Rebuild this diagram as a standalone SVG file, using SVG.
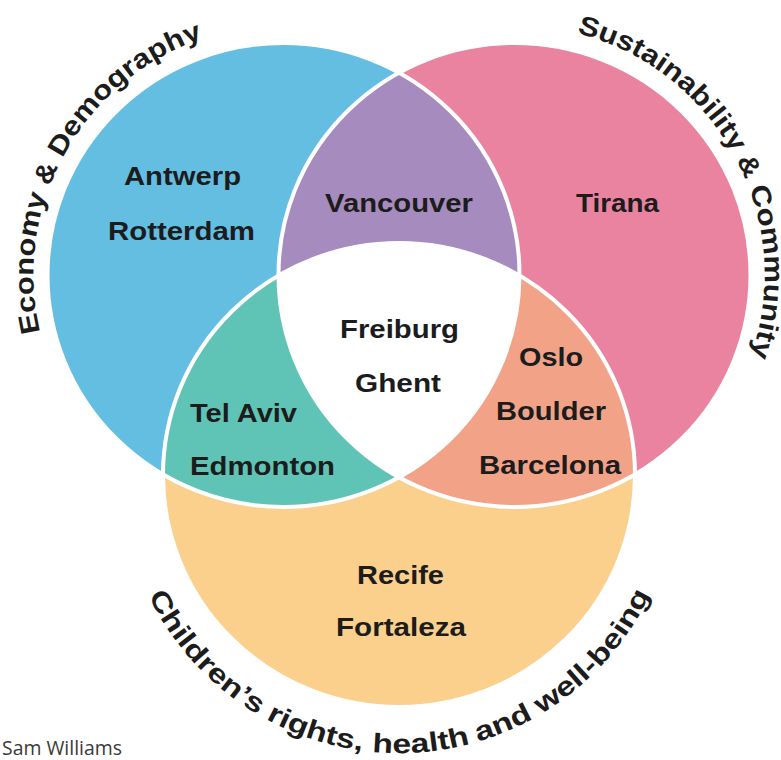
<svg xmlns="http://www.w3.org/2000/svg" width="781" height="760" viewBox="0 0 781 760">
<style>
.lbl{font-family:"Liberation Sans",Arial,sans-serif;font-weight:bold;font-size:26px;fill:#1c1c1c}
.cat{font-family:"Liberation Sans",Arial,sans-serif;font-weight:bold;font-size:27px;fill:#1c1c1c}
.edge{fill:none;stroke:#ffffff;stroke-width:4}
.credit{font-family:"Open Sans","Liberation Sans",sans-serif;font-size:20px;fill:#3a3a3a}
</style>
<defs>
<clipPath id="cB"><ellipse cx="283.5" cy="275" rx="236" ry="232"/></clipPath>
<clipPath id="cP"><ellipse cx="514.5" cy="275" rx="236" ry="232"/></clipPath>
<path id="arcB" d="M40.1,332.1 A250,250 0 0 1 202.9,38.3"/>
<path id="arcP" d="M576.7,32.9 A250,250 0 0 1 750.9,356.4"/>
<path id="arcY" d="M148.5,595.6 A278,278 0 0 0 651,592.5"/>
</defs>
<rect width="781" height="760" fill="#ffffff"/>

<g id="economy">
<ellipse cx="283.5" cy="275" rx="236" ry="232" fill="#64BEE2"/>
</g>
<g id="sustainability">
<ellipse cx="514.5" cy="275" rx="236" ry="232" fill="#E983A0"/>
</g>
<g id="children">
<ellipse cx="399" cy="475" rx="236" ry="232" fill="#FAD08C"/>
</g>
<g id="economy-sustainability">
<ellipse cx="514.5" cy="275" rx="236" ry="232" fill="#A58BBE" clip-path="url(#cB)"/>
</g>
<g id="economy-children">
<ellipse cx="399" cy="475" rx="236" ry="232" fill="#5FC4B6" clip-path="url(#cB)"/>
</g>
<g id="sustainability-children">
<ellipse cx="399" cy="475" rx="236" ry="232" fill="#F2A387" clip-path="url(#cP)"/>
</g>
<g id="all-three">
<g clip-path="url(#cB)"><ellipse cx="399" cy="475" rx="236" ry="232" fill="#ffffff" clip-path="url(#cP)"/></g>
</g>
<g id="outlines">
<ellipse class="edge" cx="283.5" cy="275" rx="236" ry="232"/>
<ellipse class="edge" cx="514.5" cy="275" rx="236" ry="232"/>
<ellipse class="edge" cx="399" cy="475" rx="236" ry="232"/>
</g>

<g id="category-labels">
<text class="cat"><textPath href="#arcB" startOffset="0" textLength="139" lengthAdjust="spacingAndGlyphs">Economy</textPath></text>
<text class="cat"><textPath href="#arcB" startOffset="148" textLength="22" lengthAdjust="spacingAndGlyphs">&amp;</textPath></text>
<text class="cat"><textPath href="#arcB" startOffset="179" textLength="189" lengthAdjust="spacingAndGlyphs">Demography</textPath></text>

<text class="cat"><textPath href="#arcP" startOffset="0" textLength="202" lengthAdjust="spacingAndGlyphs">Sustainability</textPath></text>
<text class="cat"><textPath href="#arcP" startOffset="210" textLength="22" lengthAdjust="spacingAndGlyphs">&amp;</textPath></text>
<text class="cat"><textPath href="#arcP" startOffset="241" textLength="171" lengthAdjust="spacingAndGlyphs">Community</textPath></text>

<text class="cat"><textPath href="#arcY" startOffset="0" textLength="164" lengthAdjust="spacingAndGlyphs">Children’s</textPath></text>
<text class="cat"><textPath href="#arcY" startOffset="173" textLength="102" lengthAdjust="spacingAndGlyphs">rights,</textPath></text>
<text class="cat"><textPath href="#arcY" startOffset="285" textLength="99" lengthAdjust="spacingAndGlyphs">health</textPath></text>
<text class="cat"><textPath href="#arcY" startOffset="392" textLength="60" lengthAdjust="spacingAndGlyphs">and</textPath></text>
<text class="cat"><textPath href="#arcY" startOffset="461" textLength="164" lengthAdjust="spacingAndGlyphs">well-being</textPath></text>
</g>

<g id="city-labels">
<text class="lbl" x="124" y="185" textLength="117" lengthAdjust="spacingAndGlyphs">Antwerp</text>
<text class="lbl" x="108" y="240" textLength="147" lengthAdjust="spacingAndGlyphs">Rotterdam</text>
<text class="lbl" x="325" y="212" textLength="148" lengthAdjust="spacingAndGlyphs">Vancouver</text>
<text class="lbl" x="576" y="212" textLength="83" lengthAdjust="spacingAndGlyphs">Tirana</text>
<text class="lbl" x="340" y="338" textLength="119" lengthAdjust="spacingAndGlyphs">Freiburg</text>
<text class="lbl" x="355" y="392" textLength="86" lengthAdjust="spacingAndGlyphs">Ghent</text>
<text class="lbl" x="190" y="422" textLength="107" lengthAdjust="spacingAndGlyphs">Tel Aviv</text>
<text class="lbl" x="190" y="475" textLength="145" lengthAdjust="spacingAndGlyphs">Edmonton</text>
<text class="lbl" x="519" y="366" textLength="64" lengthAdjust="spacingAndGlyphs">Oslo</text>
<text class="lbl" x="496" y="420" textLength="110" lengthAdjust="spacingAndGlyphs">Boulder</text>
<text class="lbl" x="479" y="474" textLength="142" lengthAdjust="spacingAndGlyphs">Barcelona</text>
<text class="lbl" x="357" y="584" textLength="87" lengthAdjust="spacingAndGlyphs">Recife</text>
<text class="lbl" x="336" y="636" textLength="130" lengthAdjust="spacingAndGlyphs">Fortaleza</text>
</g>

<text class="credit" x="2" y="755" textLength="120" lengthAdjust="spacingAndGlyphs">Sam Williams</text>
</svg>
